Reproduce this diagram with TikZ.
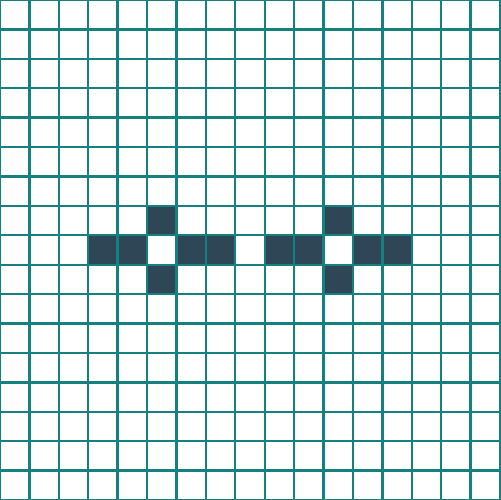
\documentclass[tikz,border=0pt]{standalone}
\definecolor{gridteal}{RGB}{20,128,128}
\definecolor{cellfill}{RGB}{46,70,86}
\tikzset{cell/.style={fill=cellfill}, gridline/.style={draw=gridteal, line width=2.3pt}}
\begin{document}
\begin{tikzpicture}
\useasboundingbox (0,0) rectangle (17,17);
\fill[white] (0,0) rectangle (17,17);
% filled cells: (col, row from top)
\foreach \c/\r in {5/7,11/7,3/8,4/8,6/8,7/8,9/8,10/8,12/8,13/8,5/9,11/9}{
  \fill[cell] (\c,16-\r) rectangle ++(1,1);
}
\draw[gridline] (0,0) grid (17,17);
\end{tikzpicture}
\end{document}
